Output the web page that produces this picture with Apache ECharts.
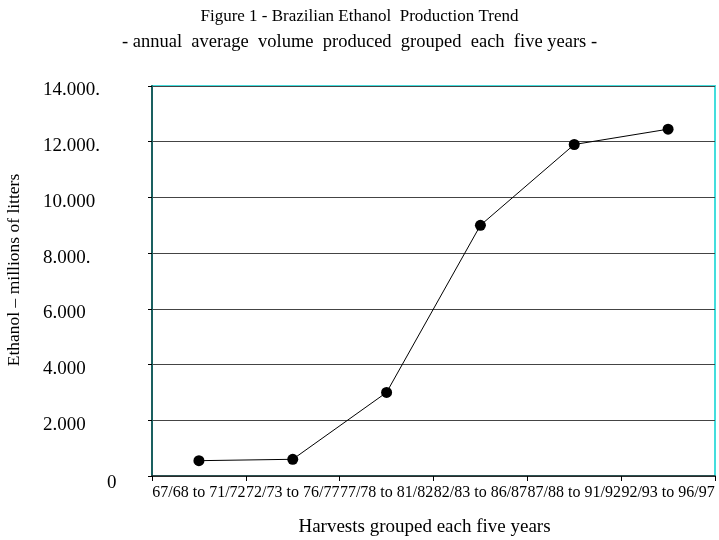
<!DOCTYPE html>
<html>
<head>
<meta charset="utf-8">
<script src="https://cdn.jsdelivr.net/npm/echarts@6/dist/echarts.min.js"></script>
<style>html,body{margin:0;padding:0;background:#fff;}#c{width:719px;height:540px;}</style>
</head>
<body>
<div id="c"></div>
<script>
var categories = ['67/68 to 71/72', '72/73 to 76/77', '77/78 to 81/82', '82/83 to 86/87', '87/88 to 91/92', '92/93 to 96/97'];
var production = [550, 600, 3000, 9000, 11900, 12450];
var yTickLabels = ['0', '2.000', '4.000', '6.000', '8.000.', '10.000', '12.000.', '14.000.'];

var FONT = '"Liberation Serif", "Times New Roman", serif';
var chart = echarts.init(document.getElementById('c'), null, {renderer: 'canvas'});
chart.setOption({
  backgroundColor: '#ffffff',
  animation: false,
  title: [
    {text: 'Figure 1 - Brazilian Ethanol  Production Trend', left: 'center', top: 3,
     textStyle: {fontFamily: FONT, fontSize: 17, fontWeight: 'normal', color: '#000'}},
    {text: '- annual  average  volume  produced  grouped  each  five years -', left: 'center', top: 28,
     textStyle: {fontFamily: FONT, fontSize: 18.5, fontWeight: 'normal', color: '#000'}}
  ],
  grid: {left: 152, right: 4, top: 86, bottom: 64, containLabel: false, outerBoundsMode: 'none',
         show: true, borderColor: '#44dddd', borderWidth: 2, backgroundColor: 'transparent'},
  xAxis: {
    type: 'category',
    data: categories,
    boundaryGap: true,
    name: 'Harvests grouped each five years',
    nameLocation: 'middle',
    nameGap: 42,
    nameTextStyle: {fontFamily: FONT, fontSize: 19, color: '#000', padding: [0, 18, 0, 0]},
    axisLine: {show: true, lineStyle: {color: '#222', width: 1.5}},
    axisTick: {show: true, alignWithLabel: false, length: 5, lineStyle: {color: '#000'}},
    axisLabel: {interval: 0, margin: 9, fontFamily: FONT, fontSize: 16, color: '#000'},
    splitLine: {show: false}
  },
  yAxis: {
    type: 'value',
    min: 0, max: 14000, interval: 2000,
    name: 'Ethanol \u2013 millions of litters',
    nameLocation: 'middle',
    nameGap: 129,
    nameRotate: 90,
    nameTextStyle: {fontFamily: FONT, fontSize: 17.5, color: '#000', padding: [0, 0, 0, 22]},
    axisLine: {show: true, lineStyle: {color: '#1a6060', width: 2}},
    axisTick: {show: true, length: 4, lineStyle: {color: '#000'}},
    axisLabel: {
      align: 'left', margin: 109, fontFamily: FONT, fontSize: 19, color: '#000', padding: [9, 0, 0, 0],
      formatter: function (v) {
        var i = Math.round(v / 2000);
        var s = yTickLabels[i];
        return i === 0 ? '{z|' + s + '}' : s;
      },
      rich: {z: {fontFamily: FONT, fontSize: 19, color: '#000', padding: [6, 0, 0, 64]}}
    },
    splitLine: {show: true, lineStyle: {color: '#444', width: 1.2}}
  },
  series: [{
    type: 'line',
    data: production,
    symbol: 'circle',
    symbolSize: 11,
    itemStyle: {color: '#000'},
    lineStyle: {color: '#000', width: 1},
    z: 5
  }]
});
</script>
</body>
</html>
